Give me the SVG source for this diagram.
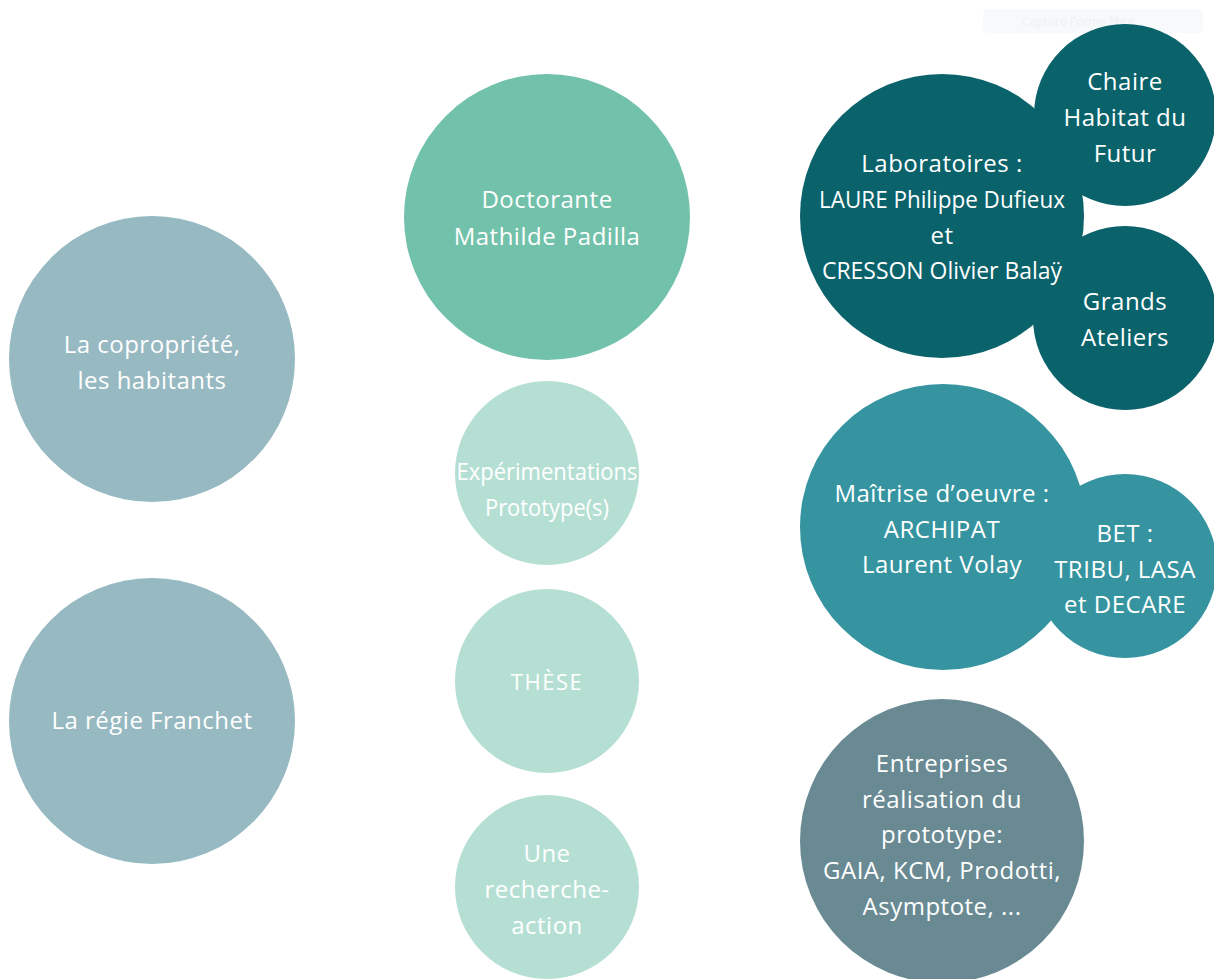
<svg xmlns="http://www.w3.org/2000/svg" width="1214" height="979" viewBox="0 0 1214 979">
<style>
text{font-family:"Open Sans","Noto Sans","Liberation Sans",sans-serif;font-size:24px;letter-spacing:0.5px;fill:#ffffff;text-anchor:middle}
.c1{fill:#97B9C2}.c2{fill:#72C1AA}.c3{fill:#B6DFD4}.c4{fill:#0A626B}.c5{fill:#3594A0}.c6{fill:#698A93}
.cond{font-size:23px;letter-spacing:0}
</style>
<rect width="1214" height="979" fill="#ffffff"/>
<g id="capture">
<rect x="983" y="9" width="220" height="24" rx="6" fill="#F7F9FB"/>
<text x="1078" y="26" style="font-size:12px;letter-spacing:0;fill:#EDF1F4">Capture Forme libre</text>
</g>
<g id="connectors"></g>
<g id="n-copro"><circle class="c1" cx="152" cy="359" r="143"/>
<text x="152" y="353">La copropriété,</text><text x="152" y="389">les habitants</text></g>
<g id="n-regie"><circle class="c1" cx="152" cy="721" r="143"/>
<text x="152" y="729">La régie Franchet</text></g>
<g id="n-doct"><circle class="c2" cx="547" cy="217" r="143"/>
<text x="547" y="208">Doctorante</text><text x="547" y="245">Mathilde Padilla</text></g>
<g id="n-exp"><circle class="c3" cx="547" cy="473" r="92"/>
<text class="cond" x="547" y="480" textLength="181" lengthAdjust="spacingAndGlyphs">Expérimentations</text>
<text class="cond" x="547" y="516" textLength="124" lengthAdjust="spacingAndGlyphs">Prototype(s)</text></g>
<g id="n-these"><circle class="c3" cx="547" cy="681" r="92"/>
<text x="547" y="690" style="font-size:22px;letter-spacing:1.5px">THÈSE</text></g>
<g id="n-rech"><circle class="c3" cx="547" cy="887" r="92"/>
<text x="547" y="862">Une</text><text x="547" y="898">recherche-</text><text x="547" y="934">action</text></g>
<g id="n-chaire"><circle class="c4" cx="1125" cy="115" r="91"/>
<text x="1125" y="90">Chaire</text><text x="1125" y="126">Habitat du</text><text x="1125" y="162">Futur</text></g>
<g id="n-grands"><circle class="c4" cx="1125" cy="318" r="92"/>
<text x="1125" y="310">Grands</text><text x="1125" y="346">Ateliers</text></g>
<g id="n-labo"><circle class="c4" cx="942" cy="216" r="142"/>
<text x="942" y="172">Laboratoires :</text>
<text class="cond" x="942" y="208" textLength="246" lengthAdjust="spacingAndGlyphs">LAURE Philippe Dufieux</text>
<text x="942" y="244">et</text>
<text class="cond" x="942" y="279" textLength="240" lengthAdjust="spacingAndGlyphs">CRESSON Olivier Balaÿ</text></g>
<g id="n-moe"><circle class="c5" cx="943" cy="527" r="143"/>
<text x="942" y="502">Maîtrise d’oeuvre :</text><text x="942" y="538">ARCHIPAT</text><text x="942" y="573">Laurent Volay</text></g>
<g id="n-bet"><circle class="c5" cx="1125" cy="566" r="92"/>
<text x="1125" y="542">BET :</text><text x="1125" y="578">TRIBU, LASA</text><text x="1125" y="613">et DECARE</text></g>
<g id="n-entr"><circle class="c6" cx="942" cy="841" r="142"/>
<text x="942" y="772">Entreprises</text><text x="942" y="808">réalisation du</text><text x="942" y="843">prototype:</text><text x="942" y="879">GAIA, KCM, Prodotti,</text><text x="942" y="915">Asymptote, ...</text></g>
</svg>
